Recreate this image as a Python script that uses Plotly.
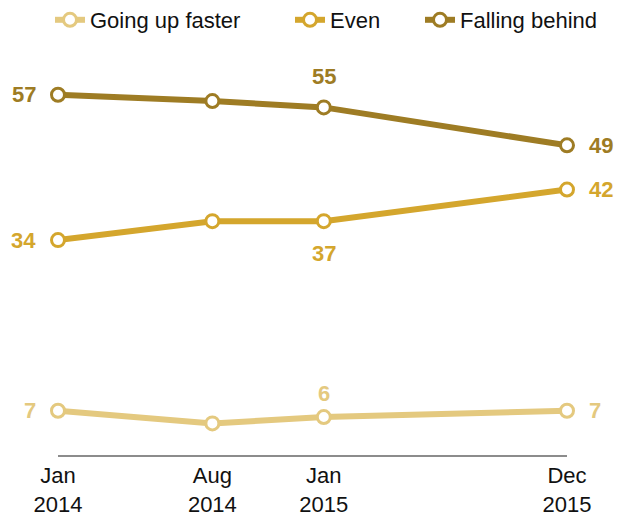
import plotly.graph_objects as go

dates = ["2014-01-01", "2014-08-01", "2015-01-01", "2015-12-01"]
tick_labels = ["Jan<br>2014", "Aug<br>2014", "Jan<br>2015", "Dec<br>2015"]

series_names = ["Going up faster", "Even", "Falling behind"]
going_up = [7, 5, 6, 7]
even = [34, 37, 37, 42]
falling = [57, 56, 55, 49]

colors = ["#E4C97F", "#D4A62D", "#9E7C24"]

# label placement style per series per point: (xanchor, xshift, yshift) or None
label_style = {
    "Going up faster": [("right", -20, 0), None, ("center", 0, 24), ("left", 20, 0)],
    "Even": [("right", -20, 0), None, ("center", 0, -32), ("left", 20, 0)],
    "Falling behind": [("right", -20, 0), None, ("center", 0, 31), ("left", 20, 0)],
}
legend_x = [50, 290, 420]  # container px

FONT = "Liberation Sans, Arial, sans-serif"
W, H = 619, 518

fig = go.Figure()
annotations = []
for i, (name, vals, col) in enumerate(zip(series_names, [going_up, even, falling], colors)):
    lg = "legend" if i == 0 else f"legend{i + 1}"
    fig.add_trace(go.Scatter(
        x=dates, y=vals, name=name, mode="lines+markers",
        line=dict(color=col, width=6),
        marker=dict(size=13, color="white", line=dict(color=col, width=3)),
        cliponaxis=False, hoverinfo="skip", legend=lg,
    ))
    for d, v, st in zip(dates, vals, label_style[name]):
        if st is None:
            continue
        xa, xs, ys = st
        annotations.append(dict(
            x=d, y=v, xref="x", yref="y", text=f"<b>{v}</b>", showarrow=False,
            xanchor=xa, yanchor="middle", xshift=xs, yshift=ys,
            font=dict(family=FONT, size=22, color=col),
        ))

legend_common = dict(orientation="h", yref="container", y=(H - 20) / H, yanchor="middle",
                     xref="container", xanchor="left", font=dict(size=22, color="#111"),
                     bgcolor="rgba(0,0,0,0)")
layout_legends = {}
for i, lx in enumerate(legend_x):
    key = "legend" if i == 0 else f"legend{i + 1}"
    layout_legends[key] = dict(legend_common, x=lx / W)

fig.update_layout(
    width=W, height=H,
    margin=dict(l=58, r=52, t=60, b=63, autoexpand=False),
    paper_bgcolor="white", plot_bgcolor="white",
    font=dict(family=FONT, size=20, color="#222"),
    showlegend=True,
    annotations=annotations,
    xaxis=dict(type="date", range=[dates[0], dates[-1]], tickvals=dates,
               ticktext=tick_labels, showgrid=False, zeroline=False,
               showline=True, linecolor="#8c8c8c", linewidth=2, automargin=False,
               ticks="", ticklabelstandoff=0, tickfont=dict(size=22, color="#111")),
    yaxis=dict(range=[0, 62.5], visible=False, automargin=False),
    **layout_legends,
)

fig.write_html("out.html")
